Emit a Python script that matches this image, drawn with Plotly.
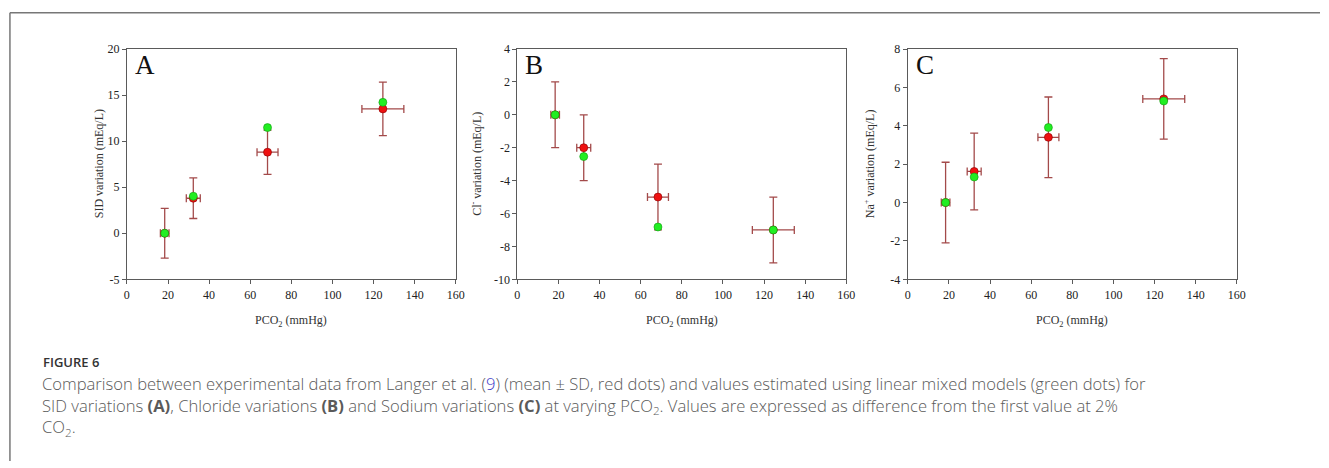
import plotly.graph_objects as go

W, H = 1329, 468

# ---- data ----
pco2 = [18.4, 32.3, 68.4, 124.5]
pco2_sd = [2.1, 3.4, 5.1, 10.2]

sid_mean = [0.0, 3.8, 8.8, 13.5]
sid_sd = [2.7, 2.2, 2.4, 2.9]
sid_model = [0.0, 4.02, 11.47, 14.21]

cl_mean = [0.0, -2.0, -5.0, -7.0]
cl_sd = [2.0, 2.0, 2.0, 2.0]
cl_model = [0.0, -2.54, -6.82, -7.0]

na_mean = [0.0, 1.62, 3.4, 5.4]
na_sd = [2.1, 2.0, 2.1, 2.1]
na_model = [0.0, 1.33, 3.91, 5.29]

x_ticks = [0, 20, 40, 60, 80, 100, 120, 140, 160]
sid_ticks = [-5, 0, 5, 10, 15, 20]
cl_ticks = [-10, -8, -6, -4, -2, 0, 2, 4]
na_ticks = [-4, -2, 0, 2, 4, 6, 8]

panels = [
    dict(letter="A", mean=sid_mean, sd=sid_sd, model=sid_model,
         ytitle="SID variation (mEq/L)", yticks=sid_ticks,
         x0=125, x1=457, ytitle_x=97),
    dict(letter="B", mean=cl_mean, sd=cl_sd, model=cl_model,
         ytitle="Cl<sup>-</sup> variation (mEq/L)", yticks=cl_ticks,
         x0=519, x1=851, ytitle_x=477),
    dict(letter="C", mean=na_mean, sd=na_sd, model=na_model,
         ytitle="Na<sup>+</sup> variation (mEq/L)", yticks=na_ticks,
         x0=913, x1=1245, ytitle_x=874),
]

PLOT_TOP, PLOT_BOT = 43.3, 280.7
ERR_COLOR = "#a34a4a"
SERIF = "Liberation Serif, Times New Roman, serif"


def tick_text(vals):
    return [str(v) for v in vals]  # plain hyphen minus, as in the reference


fig = go.Figure()
annotations = []
layout_axes = {}

for i, p in enumerate(panels):
    n = "" if i == 0 else str(i + 1)
    xa, ya = "x" + n, "y" + n
    fig.add_trace(go.Scatter(
        x=pco2, y=p["mean"], xaxis=xa, yaxis=ya, mode="markers",
        marker=dict(size=8, color="#ee1111", line=dict(width=0.6, color="#8a0000")),
        error_y=dict(type="data", array=p["sd"], color=ERR_COLOR, thickness=1.3, width=4),
        error_x=dict(type="data", array=pco2_sd, color=ERR_COLOR, thickness=1.3, width=4),
        showlegend=False, hoverinfo="skip"))
    fig.add_trace(go.Scatter(
        x=pco2, y=p["model"], xaxis=xa, yaxis=ya, mode="markers",
        marker=dict(size=8, color="#22ee22", line=dict(width=0.6, color="#119911")),
        showlegend=False, hoverinfo="skip"))

    def common():
        return dict(showgrid=False, zeroline=False, showline=True, linecolor="#5a5a5a",
                    linewidth=1, mirror=True, ticks="outside", ticklen=4,
                    tickcolor="#5a5a5a",
                    tickfont=dict(family=SERIF, size=12, color="#222"))

    yt = p["yticks"]
    layout_axes["xaxis" + n] = dict(common(), domain=[p["x0"] / W, p["x1"] / W],
                                    range=[0, 160], tickmode="array", tickvals=x_ticks,
                                    ticktext=tick_text(x_ticks), anchor=ya)
    layout_axes["yaxis" + n] = dict(common(), domain=[1 - PLOT_BOT / H, 1 - PLOT_TOP / H],
                                    range=[yt[0], yt[-1]], tickmode="array", tickvals=yt,
                                    ticktext=tick_text(yt), anchor=xa)
    # panel letter
    annotations.append(dict(text=p["letter"], xref="paper", yref="paper",
                            x=(p["x0"] + 6) / W, y=1 - 60 / H, xanchor="left", yanchor="middle",
                            showarrow=False, font=dict(family=SERIF, size=27, color="#111")))
    # y title
    annotations.append(dict(text=p["ytitle"], xref="paper", yref="paper",
                            x=p["ytitle_x"] / W, y=1 - (PLOT_TOP + PLOT_BOT) / 2 / H,
                            xanchor="center", yanchor="middle", textangle=-90,
                            showarrow=False, font=dict(family=SERIF, size=12, color="#333")))
    # x title
    annotations.append(dict(text="PCO<sub>2</sub> (mmHg)", xref="paper", yref="paper",
                            x=(p["x0"] + p["x1"]) / 2 / W, y=1 - 324 / H,
                            xanchor="center", yanchor="middle",
                            showarrow=False, font=dict(family=SERIF, size=12, color="#333")))

CAP_FONT = "Open Sans, Lato, sans-serif"
annotations.append(dict(text="FIGURE 6", xref="paper", yref="paper",
                        x=38 / W, y=1 - 366 / H, xanchor="left", yanchor="middle",
                        showarrow=False,
                        font=dict(family=CAP_FONT, size=13, color="#333", weight=600)))
caption = (
    "Comparison between experimental data from Langer et al. (<span style='color:#3b3bc8'>9</span>) "
    "(mean ± SD, red dots) and values estimated using linear mixed models (green dots) for<br>"
    "SID variations <b>(A)</b>, Chloride variations <b>(B)</b> and Sodium variations <b>(C)</b> "
    "at varying PCO<sub>2</sub>. Values are expressed as difference from the first value at 2%<br>"
    "CO<sub>2</sub>."
)
annotations.append(dict(text=caption, xref="paper", yref="paper", align="left",
                        x=37 / W, y=1 - 411 / H, xanchor="left", yanchor="middle",
                        showarrow=False,
                        font=dict(family=CAP_FONT, size=16.6, color="#5a5a5a", weight=300)))

shapes = [
    dict(type="line", xref="paper", yref="paper", x0=7 / W, x1=7 / W, y0=0, y1=1 - 6 / H,
         line=dict(color="#777", width=1.5)),
    dict(type="line", xref="paper", yref="paper", x0=7 / W, x1=1, y0=1 - 6 / H, y1=1 - 6 / H,
         line=dict(color="#777", width=1.5)),
]

fig.update_layout(
    width=W, height=H, margin=dict(l=0, r=0, t=0, b=0),
    paper_bgcolor="white", plot_bgcolor="white",
    annotations=annotations, shapes=shapes, **layout_axes)

fig.write_html("out.html")
